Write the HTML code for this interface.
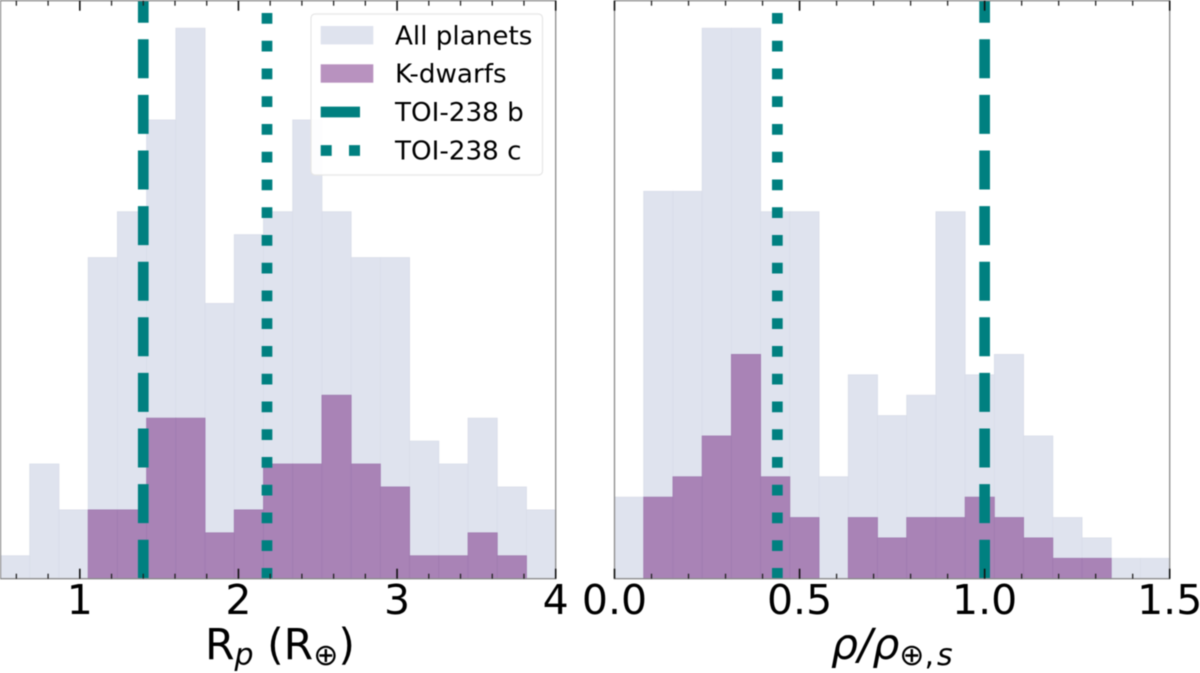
<!DOCTYPE html>
<html lang="en">
<head>
<meta charset="utf-8">
<title>TOI-238 planet radius and density histograms</title>
<style>
  html, body { margin: 0; padding: 0; background: #fff; }
  body { width: 1200px; height: 673px; overflow: hidden; }
  svg { display: block; filter: blur(0.4px); }
  text { font-family: "DejaVu Sans", "Liberation Sans", sans-serif; fill: #000; }
  .tick-label { font-size: 41px; text-anchor: middle; }
  .axis-title { font-size: 42.5px; }
  .legend-text { font-size: 26.2px; }
  .it { font-style: italic; }
</style>
</head>
<body>
<svg id="chart" xmlns="http://www.w3.org/2000/svg" width="1200" height="673" viewBox="0 0 1200 673">
  <rect x="0" y="0" width="1200" height="673" fill="#ffffff"/>
  <g id="panel-left"></g>
  <g id="panel-right"></g>

  <text class="axis-title" x="205" y="659">R<tspan class="it" font-size="30" dy="6">p</tspan><tspan dy="-6" xml:space="preserve"> (R</tspan><tspan font-size="30" dy="6">⊕</tspan><tspan dy="-6">)</tspan></text>
  <text class="axis-title" x="831" y="659"><tspan class="it">ρ</tspan><tspan class="it">/</tspan><tspan class="it">ρ</tspan><tspan font-size="30" dy="6">⊕</tspan><tspan font-size="30">,</tspan><tspan class="it" font-size="30" dx="3">s</tspan></text>

  <g>
    <rect x="311" y="14" width="231.5" height="161" rx="4" fill="#ffffff" fill-opacity="0.93" stroke="#e6e6e6" stroke-width="1.2"/>
    <rect x="320.7" y="26" width="52.6" height="18.4" fill="#dfe3ee"/>
    <text class="legend-text" x="395" y="44.5">All planets</text>
    <rect x="320.7" y="64.3" width="52.6" height="18.4" fill="#b892bf"/>
    <text class="legend-text" x="395" y="82.7">K-dwarfs</text>
    <line x1="320.7" x2="360" y1="112" y2="112" stroke="#008080" stroke-width="10.7"/>
    <text class="legend-text" x="395" y="121">TOI-238 b</text>
    <line x1="320.7" x2="360" y1="150.5" y2="150.5" stroke="#008080" stroke-width="10.7" stroke-dasharray="11 17.3"/>
    <text class="legend-text" x="395" y="159.5">TOI-238 c</text>
  </g>
</svg>

<script>
// Left panel data: planet radius histogram
const radiusAllPlanets = [1, 5, 3, 14, 16, 20, 24, 12, 15, 16, 20, 16, 14, 14, 6, 5, 7, 4, 3];
const radiusKDwarfs = [0, 0, 0, 3, 3, 7, 7, 2, 3, 5, 5, 8, 5, 4, 1, 1, 2, 1, 0];
const radiusMajorTicks = [1, 2, 3, 4];
const radiusMinorTicks = [0.6, 0.8, 1.2, 1.4, 1.6, 1.8, 2.2, 2.4, 2.6, 2.8, 3.2, 3.4, 3.6, 3.8];
const radiusPlanetB = 1.4;
const radiusPlanetC = 2.18;

// Right panel data: density histogram
const densityAllPlanets = [4, 19, 19, 27, 27, 18, 18, 5, 10, 8, 9, 18, 10, 11, 7, 3, 2, 1, 1];
const densityKDwarfs = [0, 4, 5, 7, 11, 5, 3, 0, 3, 2, 3, 3, 4, 3, 2, 1, 1, 0, 0];
const densityMajorTicks = ["0.0", "0.5", "1.0", "1.5"];
const densityMinorTicks = [0.1, 0.2, 0.3, 0.4, 0.6, 0.7, 0.8, 0.9, 1.1, 1.2, 1.3, 1.4];
const densityPlanetB = 1.0;
const densityPlanetC = 0.44;

const NS = 'http://www.w3.org/2000/svg';

function make(parent, tag, attrs) {
  const el = document.createElementNS(NS, tag);
  for (const k in attrs) el.setAttribute(k, attrs[k]);
  parent.appendChild(el);
  return el;
}

function drawPanel(cfg) {
  const g = document.getElementById(cfg.id);
  const sx = function (v) { return cfg.left + (v - cfg.xMin) / (cfg.xMax - cfg.xMin) * (cfg.right - cfg.left); };
  const sy = function (c) { return cfg.bottom - c / cfg.yMax * (cfg.bottom - cfg.top); };
  const binW = (cfg.xMax - cfg.xMin) / cfg.all.length;

  cfg.all.forEach(function (count, i) {
    if (count <= 0) return;
    const r = make(g, 'rect', {
      x: sx(cfg.xMin + i * binW), y: sy(count),
      width: sx(cfg.xMin + (i + 1) * binW) - sx(cfg.xMin + i * binW),
      height: sy(0) - sy(count),
      fill: '#dfe3ee', stroke: '#d9dde9', 'stroke-width': 0.8
    });
    
    
  });

  cfg.kd.forEach(function (count, i) {
    if (count <= 0) return;
    const r = make(g, 'rect', {
      x: sx(cfg.xMin + i * binW), y: sy(count),
      width: sx(cfg.xMin + (i + 1) * binW) - sx(cfg.xMin + i * binW),
      height: sy(0) - sy(count),
      fill: '#a983b6', stroke: '#a07bb0', 'stroke-width': 0.8
    });
    
    
  });

  const lineB = make(g, 'line', {
    x1: sx(cfg.planetB), x2: sx(cfg.planetB), y1: cfg.bottom, y2: cfg.top,
    stroke: '#008080', 'stroke-width': 10.7, 'stroke-dasharray': '39 16.6'
  });
  
  

  const lineC = make(g, 'line', {
    x1: sx(cfg.planetC), x2: sx(cfg.planetC), y1: cfg.bottom, y2: cfg.top,
    stroke: '#008080', 'stroke-width': 10.7, 'stroke-dasharray': '10.7 17.05'
  });
  
  

  const frame = make(g, 'rect', {
    x: cfg.left, y: cfg.top, width: cfg.right - cfg.left, height: cfg.bottom - cfg.top,
    fill: 'none', stroke: '#8a8a8a', 'stroke-width': 1.3
  });
  
  

  cfg.minor.forEach(function (v) {
    [[cfg.bottom, cfg.bottom - 5], [cfg.top, cfg.top + 5]].forEach(function (p) {
      const t = make(g, 'line', { x1: sx(v), x2: sx(v), y1: p[0], y2: p[1], stroke: '#222', 'stroke-width': 1.3 });
      
      
    });
  });

  cfg.major.forEach(function (label) {
    const v = parseFloat(label);
    [[cfg.bottom, cfg.bottom - 10], [cfg.top, cfg.top + 10]].forEach(function (p) {
      const t = make(g, 'line', { x1: sx(v), x2: sx(v), y1: p[0], y2: p[1], stroke: '#111', 'stroke-width': 1.6 });
      
      
    });
    const txt = make(g, 'text', { x: sx(v), y: 614, 'class': 'tick-label' });
    
    
    txt.textContent = label;
  });
}

drawPanel({
  id: 'panel-left', left: 0.5, right: 555.7, top: 0.7, bottom: 578.7,
  xMin: 0.5, xMax: 4, yMax: 25.2,
  all: radiusAllPlanets, kd: radiusKDwarfs,
  major: radiusMajorTicks.map(String), minor: radiusMinorTicks,
  planetB: radiusPlanetB, planetC: radiusPlanetC
});

drawPanel({
  id: 'panel-right', left: 614.5, right: 1169.7, top: 0.7, bottom: 578.7,
  xMin: 0, xMax: 1.5, yMax: 28.35,
  all: densityAllPlanets, kd: densityKDwarfs,
  major: densityMajorTicks, minor: densityMinorTicks,
  planetB: densityPlanetB, planetC: densityPlanetC
});
</script>
</body>
</html>
